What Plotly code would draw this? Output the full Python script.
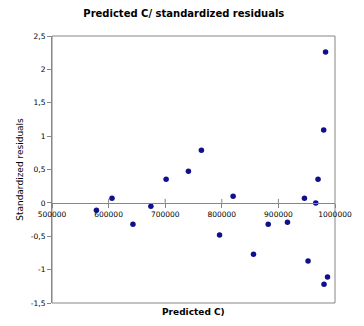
import plotly.graph_objects as go

# Predicted values and their standardized residuals
predicted = [578500, 606000, 643000, 674700, 701600, 741000, 764000, 796000,
             820000, 856000, 882000, 916000, 946000, 952400, 966000, 970000,
             980000, 983300, 986800, 980600]
residuals = [-0.11, 0.07, -0.32, -0.05, 0.355, 0.475, 0.79, -0.48,
             0.10, -0.77, -0.32, -0.29, 0.07, -0.87, 0.0, 0.355,
             1.09, 2.26, -1.11, -1.22]

x_ticks = [500000, 600000, 700000, 800000, 900000, 1000000]
y_ticks = [-1.5, -1, -0.5, 0, 0.5, 1, 1.5, 2, 2.5]
y_tick_text = ["-1,5", "-1", "-0,5", "0", "0,5", "1", "1,5", "2", "2,5"]

X_RANGE = [500000, 1000000]
Y_RANGE = [-1.5, 2.5]
zero_pos = (0 - Y_RANGE[0]) / (Y_RANGE[1] - Y_RANGE[0])

FONT = "DejaVu Sans"
AXIS_GREY = "#868686"

fig = go.Figure()
fig.add_trace(go.Scatter(
    x=predicted, y=residuals, mode="markers",
    marker=dict(color="#10108c", size=5.5),
    showlegend=False, hoverinfo="skip",
))

fig.update_layout(
    width=364, height=326,
    margin=dict(l=52, r=21, t=36, b=23),
    paper_bgcolor="white", plot_bgcolor="white",
    font=dict(family=FONT, size=8, color="#000000"),
    title=dict(text="<b>Predicted C/ standardized residuals</b>",
               x=0.505, xanchor="center", y=0.96, yanchor="middle",
               font=dict(family=FONT, size=10, color="#000000")),
    xaxis=dict(
        range=X_RANGE, tickvals=x_ticks,
        ticktext=[str(v) for v in x_ticks],
        anchor="free", position=zero_pos,
        showline=True, linecolor=AXIS_GREY, linewidth=1,
        ticks="outside", ticklen=4, tickcolor=AXIS_GREY,
        showgrid=False, zeroline=False,
        tickfont=dict(family=FONT, size=7.5, color="#000000"),
    ),
    yaxis=dict(
        range=Y_RANGE, tickvals=y_ticks, ticktext=y_tick_text,
        showline=True, linecolor=AXIS_GREY, linewidth=1,
        ticks="outside", ticklen=4, tickcolor=AXIS_GREY,
        showgrid=False, zeroline=False,
        tickfont=dict(family=FONT, size=7.5, color="#000000"),
        title=dict(text="Standardized residuals", standoff=5,
                   font=dict(family=FONT, size=9, color="#000000")),
    ),
)

# Plot-area frame
fig.add_shape(type="rect", xref="x domain", yref="y domain",
              x0=0, x1=1, y0=0, y1=1,
              line=dict(color=AXIS_GREY, width=1), layer="below")

# Upward halves of the x tick marks, crossing the zero line
for v in x_ticks[1:-1]:
    fig.add_shape(type="line", xref="x", yref="y",
                  x0=v, x1=v, y0=0, y1=0.06,
                  line=dict(color=AXIS_GREY, width=1))

# X axis title below the plot frame
fig.add_annotation(text="<b>Predicted C)</b>", xref="paper", yref="paper",
                   x=0.5, y=-0.005, xanchor="center", yanchor="top",
                   yshift=-1, showarrow=False,
                   font=dict(family=FONT, size=9, color="#000000"))

fig.write_html("out.html")
